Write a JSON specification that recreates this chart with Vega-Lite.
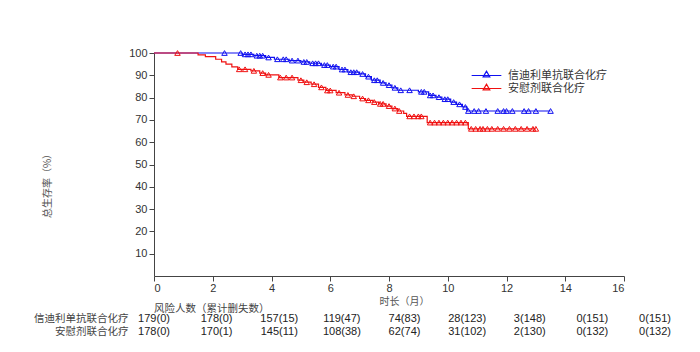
{
  "$schema": "https://vega.github.io/schema/vega-lite/v6.json",
  "background": "white",
  "padding": {"left": 33, "top": 47, "right": 5, "bottom": 5},
  "config": {
    "view": {"stroke": null},
    "axis": {"labelFont": "Liberation Sans", "labelFontSize": 11, "labelColor": "#333", "domainColor": "#444", "tickColor": "#444", "grid": false, "titleFont": "Noto Sans CJK SC", "titleFontWeight": "normal", "titleColor": "#555", "titleFontSize": 10, "labelOverlap": false}
  },
  "datasets": {
    "curves": [
      {"arm": "信迪利单抗联合化疗", "t": 0, "s": 100},
      {"arm": "信迪利单抗联合化疗", "t": 3.0, "s": 99.4},
      {"arm": "信迪利单抗联合化疗", "t": 3.4, "s": 98.8},
      {"arm": "信迪利单抗联合化疗", "t": 3.8, "s": 98.0},
      {"arm": "信迪利单抗联合化疗", "t": 4.1, "s": 97.2},
      {"arm": "信迪利单抗联合化疗", "t": 4.6, "s": 96.6},
      {"arm": "信迪利单抗联合化疗", "t": 5.0, "s": 96.0},
      {"arm": "信迪利单抗联合化疗", "t": 5.3, "s": 95.4},
      {"arm": "信迪利单抗联合化疗", "t": 5.7, "s": 94.6},
      {"arm": "信迪利单抗联合化疗", "t": 6.0, "s": 93.9},
      {"arm": "信迪利单抗联合化疗", "t": 6.3, "s": 92.6},
      {"arm": "信迪利单抗联合化疗", "t": 6.6, "s": 91.4},
      {"arm": "信迪利单抗联合化疗", "t": 7.0, "s": 90.6},
      {"arm": "信迪利单抗联合化疗", "t": 7.2, "s": 89.4},
      {"arm": "信迪利单抗联合化疗", "t": 7.4, "s": 87.8},
      {"arm": "信迪利单抗联合化疗", "t": 7.7, "s": 86.6},
      {"arm": "信迪利单抗联合化疗", "t": 7.9, "s": 85.6},
      {"arm": "信迪利单抗联合化疗", "t": 8.1, "s": 84.4},
      {"arm": "信迪利单抗联合化疗", "t": 8.3, "s": 83.3},
      {"arm": "信迪利单抗联合化疗", "t": 9.0, "s": 82.6},
      {"arm": "信迪利单抗联合化疗", "t": 9.35, "s": 81.0},
      {"arm": "信迪利单抗联合化疗", "t": 9.6, "s": 80.2},
      {"arm": "信迪利单抗联合化疗", "t": 9.8, "s": 79.3},
      {"arm": "信迪利单抗联合化疗", "t": 10.1, "s": 78.0},
      {"arm": "信迪利单抗联合化疗", "t": 10.3, "s": 77.0},
      {"arm": "信迪利单抗联合化疗", "t": 10.5, "s": 75.8},
      {"arm": "信迪利单抗联合化疗", "t": 10.65, "s": 74.0},
      {"arm": "信迪利单抗联合化疗", "t": 13.5, "s": 74.0},
      {"arm": "安慰剂联合化疗", "t": 0, "s": 100},
      {"arm": "安慰剂联合化疗", "t": 1.5, "s": 99.2},
      {"arm": "安慰剂联合化疗", "t": 1.75, "s": 98.4},
      {"arm": "安慰剂联合化疗", "t": 2.1, "s": 97.2},
      {"arm": "安慰剂联合化疗", "t": 2.3, "s": 96.0},
      {"arm": "安慰剂联合化疗", "t": 2.45, "s": 95.0},
      {"arm": "安慰剂联合化疗", "t": 2.65, "s": 93.8},
      {"arm": "安慰剂联合化疗", "t": 2.85, "s": 92.7},
      {"arm": "安慰剂联合化疗", "t": 3.3, "s": 92.0},
      {"arm": "安慰剂联合化疗", "t": 3.6, "s": 91.0},
      {"arm": "安慰剂联合化疗", "t": 3.8, "s": 90.2},
      {"arm": "安慰剂联合化疗", "t": 4.25, "s": 89.0},
      {"arm": "安慰剂联合化疗", "t": 4.9, "s": 87.8},
      {"arm": "安慰剂联合化疗", "t": 5.1, "s": 86.9},
      {"arm": "安慰剂联合化疗", "t": 5.35, "s": 86.0},
      {"arm": "安慰剂联合化疗", "t": 5.6, "s": 84.6},
      {"arm": "安慰剂联合化疗", "t": 5.85, "s": 83.2},
      {"arm": "安慰剂联合化疗", "t": 6.2, "s": 82.2},
      {"arm": "安慰剂联合化疗", "t": 6.5, "s": 81.2},
      {"arm": "安慰剂联合化疗", "t": 6.75, "s": 80.6},
      {"arm": "安慰剂联合化疗", "t": 7.0, "s": 79.6},
      {"arm": "安慰剂联合化疗", "t": 7.2, "s": 78.8},
      {"arm": "安慰剂联合化疗", "t": 7.45, "s": 78.0},
      {"arm": "安慰剂联合化疗", "t": 7.65, "s": 77.2},
      {"arm": "安慰剂联合化疗", "t": 7.9, "s": 76.2},
      {"arm": "安慰剂联合化疗", "t": 8.1, "s": 75.1},
      {"arm": "安慰剂联合化疗", "t": 8.3, "s": 74.0},
      {"arm": "安慰剂联合化疗", "t": 8.5, "s": 72.9},
      {"arm": "安慰剂联合化疗", "t": 8.6, "s": 71.6},
      {"arm": "安慰剂联合化疗", "t": 9.3, "s": 68.8},
      {"arm": "安慰剂联合化疗", "t": 10.7, "s": 66.0},
      {"arm": "安慰剂联合化疗", "t": 13.0, "s": 66.0}
    ],
    "censor": [
      {"arm": "信迪利单抗联合化疗", "t": 2.4, "s": 100},
      {"arm": "信迪利单抗联合化疗", "t": 2.95, "s": 100},
      {"arm": "信迪利单抗联合化疗", "t": 3.1, "s": 99.4},
      {"arm": "信迪利单抗联合化疗", "t": 3.2, "s": 99.4},
      {"arm": "信迪利单抗联合化疗", "t": 3.3, "s": 99.4},
      {"arm": "信迪利单抗联合化疗", "t": 3.5, "s": 98.8},
      {"arm": "信迪利单抗联合化疗", "t": 3.6, "s": 98.8},
      {"arm": "信迪利单抗联合化疗", "t": 3.7, "s": 98.8},
      {"arm": "信迪利单抗联合化疗", "t": 3.9, "s": 98.0},
      {"arm": "信迪利单抗联合化疗", "t": 4.2, "s": 97.2},
      {"arm": "信迪利单抗联合化疗", "t": 4.4, "s": 97.2},
      {"arm": "信迪利单抗联合化疗", "t": 4.5, "s": 97.2},
      {"arm": "信迪利单抗联合化疗", "t": 4.7, "s": 96.6},
      {"arm": "信迪利单抗联合化疗", "t": 4.9, "s": 96.6},
      {"arm": "信迪利单抗联合化疗", "t": 5.1, "s": 96.0},
      {"arm": "信迪利单抗联合化疗", "t": 5.2, "s": 96.0},
      {"arm": "信迪利单抗联合化疗", "t": 5.4, "s": 95.4},
      {"arm": "信迪利单抗联合化疗", "t": 5.5, "s": 95.4},
      {"arm": "信迪利单抗联合化疗", "t": 5.6, "s": 95.4},
      {"arm": "信迪利单抗联合化疗", "t": 5.8, "s": 94.6},
      {"arm": "信迪利单抗联合化疗", "t": 5.9, "s": 94.6},
      {"arm": "信迪利单抗联合化疗", "t": 6.1, "s": 93.9},
      {"arm": "信迪利单抗联合化疗", "t": 6.2, "s": 93.9},
      {"arm": "信迪利单抗联合化疗", "t": 6.4, "s": 92.6},
      {"arm": "信迪利单抗联合化疗", "t": 6.5, "s": 92.6},
      {"arm": "信迪利单抗联合化疗", "t": 6.7, "s": 91.4},
      {"arm": "信迪利单抗联合化疗", "t": 6.8, "s": 91.4},
      {"arm": "信迪利单抗联合化疗", "t": 6.9, "s": 91.4},
      {"arm": "信迪利单抗联合化疗", "t": 7.1, "s": 90.6},
      {"arm": "信迪利单抗联合化疗", "t": 7.3, "s": 89.4},
      {"arm": "信迪利单抗联合化疗", "t": 7.5, "s": 87.8},
      {"arm": "信迪利单抗联合化疗", "t": 7.6, "s": 87.8},
      {"arm": "信迪利单抗联合化疗", "t": 7.8, "s": 86.6},
      {"arm": "信迪利单抗联合化疗", "t": 8.0, "s": 85.6},
      {"arm": "信迪利单抗联合化疗", "t": 8.2, "s": 84.4},
      {"arm": "信迪利单抗联合化疗", "t": 8.4, "s": 83.3},
      {"arm": "信迪利单抗联合化疗", "t": 8.7, "s": 83.3},
      {"arm": "信迪利单抗联合化疗", "t": 9.1, "s": 82.6},
      {"arm": "信迪利单抗联合化疗", "t": 9.2, "s": 82.6},
      {"arm": "信迪利单抗联合化疗", "t": 9.4, "s": 81.0},
      {"arm": "信迪利单抗联合化疗", "t": 9.5, "s": 81.0},
      {"arm": "信迪利单抗联合化疗", "t": 9.7, "s": 80.2},
      {"arm": "信迪利单抗联合化疗", "t": 9.9, "s": 79.3},
      {"arm": "信迪利单抗联合化疗", "t": 10.0, "s": 79.3},
      {"arm": "信迪利单抗联合化疗", "t": 10.2, "s": 78.0},
      {"arm": "信迪利单抗联合化疗", "t": 10.4, "s": 77.0},
      {"arm": "信迪利单抗联合化疗", "t": 10.6, "s": 75.8},
      {"arm": "信迪利单抗联合化疗", "t": 10.7, "s": 74.0},
      {"arm": "信迪利单抗联合化疗", "t": 10.9, "s": 74.0},
      {"arm": "信迪利单抗联合化疗", "t": 11.05, "s": 74.0},
      {"arm": "信迪利单抗联合化疗", "t": 11.3, "s": 74.0},
      {"arm": "信迪利单抗联合化疗", "t": 11.7, "s": 74.0},
      {"arm": "信迪利单抗联合化疗", "t": 11.9, "s": 74.0},
      {"arm": "信迪利单抗联合化疗", "t": 12.0, "s": 74.0},
      {"arm": "信迪利单抗联合化疗", "t": 12.2, "s": 74.0},
      {"arm": "信迪利单抗联合化疗", "t": 12.6, "s": 74.0},
      {"arm": "信迪利单抗联合化疗", "t": 12.75, "s": 74.0},
      {"arm": "信迪利单抗联合化疗", "t": 13.0, "s": 74.0},
      {"arm": "信迪利单抗联合化疗", "t": 13.5, "s": 74.0},
      {"arm": "安慰剂联合化疗", "t": 0.8, "s": 100},
      {"arm": "安慰剂联合化疗", "t": 2.9, "s": 92.7},
      {"arm": "安慰剂联合化疗", "t": 3.1, "s": 92.7},
      {"arm": "安慰剂联合化疗", "t": 3.4, "s": 92.0},
      {"arm": "安慰剂联合化疗", "t": 3.7, "s": 91.0},
      {"arm": "安慰剂联合化疗", "t": 3.9, "s": 90.2},
      {"arm": "安慰剂联合化疗", "t": 4.3, "s": 89.0},
      {"arm": "安慰剂联合化疗", "t": 4.5, "s": 89.0},
      {"arm": "安慰剂联合化疗", "t": 4.7, "s": 89.0},
      {"arm": "安慰剂联合化疗", "t": 5.0, "s": 87.8},
      {"arm": "安慰剂联合化疗", "t": 5.2, "s": 86.9},
      {"arm": "安慰剂联合化疗", "t": 5.45, "s": 86.0},
      {"arm": "安慰剂联合化疗", "t": 5.7, "s": 84.6},
      {"arm": "安慰剂联合化疗", "t": 5.9, "s": 83.2},
      {"arm": "安慰剂联合化疗", "t": 6.0, "s": 83.2},
      {"arm": "安慰剂联合化疗", "t": 6.3, "s": 82.2},
      {"arm": "安慰剂联合化疗", "t": 6.6, "s": 81.2},
      {"arm": "安慰剂联合化疗", "t": 6.8, "s": 80.6},
      {"arm": "安慰剂联合化疗", "t": 7.1, "s": 79.6},
      {"arm": "安慰剂联合化疗", "t": 7.3, "s": 78.8},
      {"arm": "安慰剂联合化疗", "t": 7.5, "s": 78.0},
      {"arm": "安慰剂联合化疗", "t": 7.7, "s": 77.2},
      {"arm": "安慰剂联合化疗", "t": 7.8, "s": 77.2},
      {"arm": "安慰剂联合化疗", "t": 8.0, "s": 76.2},
      {"arm": "安慰剂联合化疗", "t": 8.2, "s": 75.1},
      {"arm": "安慰剂联合化疗", "t": 8.35, "s": 74.0},
      {"arm": "安慰剂联合化疗", "t": 8.7, "s": 71.6},
      {"arm": "安慰剂联合化疗", "t": 8.85, "s": 71.6},
      {"arm": "安慰剂联合化疗", "t": 9.0, "s": 71.6},
      {"arm": "安慰剂联合化疗", "t": 9.1, "s": 71.6},
      {"arm": "安慰剂联合化疗", "t": 9.4, "s": 68.8},
      {"arm": "安慰剂联合化疗", "t": 9.55, "s": 68.8},
      {"arm": "安慰剂联合化疗", "t": 9.7, "s": 68.8},
      {"arm": "安慰剂联合化疗", "t": 9.85, "s": 68.8},
      {"arm": "安慰剂联合化疗", "t": 10.0, "s": 68.8},
      {"arm": "安慰剂联合化疗", "t": 10.15, "s": 68.8},
      {"arm": "安慰剂联合化疗", "t": 10.3, "s": 68.8},
      {"arm": "安慰剂联合化疗", "t": 10.45, "s": 68.8},
      {"arm": "安慰剂联合化疗", "t": 10.6, "s": 68.8},
      {"arm": "安慰剂联合化疗", "t": 10.8, "s": 66.0},
      {"arm": "安慰剂联合化疗", "t": 10.95, "s": 66.0},
      {"arm": "安慰剂联合化疗", "t": 11.1, "s": 66.0},
      {"arm": "安慰剂联合化疗", "t": 11.2, "s": 66.0},
      {"arm": "安慰剂联合化疗", "t": 11.35, "s": 66.0},
      {"arm": "安慰剂联合化疗", "t": 11.5, "s": 66.0},
      {"arm": "安慰剂联合化疗", "t": 11.7, "s": 66.0},
      {"arm": "安慰剂联合化疗", "t": 11.9, "s": 66.0},
      {"arm": "安慰剂联合化疗", "t": 12.1, "s": 66.0},
      {"arm": "安慰剂联合化疗", "t": 12.3, "s": 66.0},
      {"arm": "安慰剂联合化疗", "t": 12.5, "s": 66.0},
      {"arm": "安慰剂联合化疗", "t": 12.7, "s": 66.0},
      {"arm": "安慰剂联合化疗", "t": 12.9, "s": 66.0},
      {"arm": "安慰剂联合化疗", "t": 13.0, "s": 66.0}
    ],
    "risk": [
      {"arm": "信迪利单抗联合化疗", "t": 0, "label": "179(0)"},
      {"arm": "信迪利单抗联合化疗", "t": 2, "label": "178(0)"},
      {"arm": "信迪利单抗联合化疗", "t": 4, "label": "157(15)"},
      {"arm": "信迪利单抗联合化疗", "t": 6, "label": "119(47)"},
      {"arm": "信迪利单抗联合化疗", "t": 8, "label": "74(83)"},
      {"arm": "信迪利单抗联合化疗", "t": 10, "label": "28(123)"},
      {"arm": "信迪利单抗联合化疗", "t": 12, "label": "3(148)"},
      {"arm": "信迪利单抗联合化疗", "t": 14, "label": "0(151)"},
      {"arm": "信迪利单抗联合化疗", "t": 16, "label": "0(151)"},
      {"arm": "安慰剂联合化疗", "t": 0, "label": "178(0)"},
      {"arm": "安慰剂联合化疗", "t": 2, "label": "170(1)"},
      {"arm": "安慰剂联合化疗", "t": 4, "label": "145(11)"},
      {"arm": "安慰剂联合化疗", "t": 6, "label": "108(38)"},
      {"arm": "安慰剂联合化疗", "t": 8, "label": "62(74)"},
      {"arm": "安慰剂联合化疗", "t": 10, "label": "31(102)"},
      {"arm": "安慰剂联合化疗", "t": 12, "label": "2(130)"},
      {"arm": "安慰剂联合化疗", "t": 14, "label": "0(132)"},
      {"arm": "安慰剂联合化疗", "t": 16, "label": "0(132)"}
    ]
  },
  "bounds": "flush",
  "spacing": 36,
  "resolve": {"scale": {"x": "independent", "y": "independent"}},
  "vconcat": [
    {
      "width": 470,
      "height": 223,
      "encoding": {
        "x": {"field": "t", "type": "quantitative", "scale": {"domain": [0, 16], "nice": false, "zero": false},
          "axis": {"values": [0, 2, 4, 6, 8, 10, 12, 14, 16], "labelOverlap": false, "title": "时长（月）", "tickSize": 5, "labelPadding": 1, "titleX": 250, "titleY": 25, "titleBaseline": "middle", "titleAnchor": "middle", "titleAlign": "center"}},
        "y": {"field": "s", "type": "quantitative", "scale": {"domain": [0, 100], "nice": false},
          "axis": {"values": [10, 20, 30, 40, 50, 60, 70, 80, 90, 100], "labelOverlap": false, "labelFlush": false, "title": "总生存率（%）", "tickSize": 5, "labelPadding": 2, "titleX": -107, "titleY": 130, "titleAngle": -90, "titleAlign": "center", "titleBaseline": "middle"}},
        "color": {"field": "arm", "type": "nominal",
          "scale": {"domain": ["信迪利单抗联合化疗", "安慰剂联合化疗"], "range": ["#1010f0", "#f01010"]},
          "legend": {"title": null, "orient": "none", "legendX": 326, "legendY": 16, "symbolType": "M-2.7,0H2.7M-0.6,0.25L0,-0.8L0.6,0.25Z", "symbolSize": 121, "symbolStrokeWidth": 1.2, "symbolFillColor": "transparent", "labelFont": "Noto Sans CJK SC", "labelFontSize": 11, "labelColor": "#333", "labelOffset": 15, "rowPadding": 0}}
      },
      "layer": [
        {
          "data": {"name": "curves"},
          "mark": {"type": "line", "interpolate": "step-after", "strokeWidth": 1.2, "clip": false}
        },
        {
          "data": {"name": "censor"},
          "mark": {"type": "point", "shape": "triangle-up", "filled": false, "size": 30, "strokeWidth": 1, "opacity": 1, "clip": false}
        }
      ]
    },
    {
      "width": 501,
      "height": 26,
      "title": {"text": "风险人数（累计删失数）", "anchor": "start", "frame": "group", "offset": -2, "fontSize": 10.5, "font": "Noto Sans CJK SC", "fontWeight": "normal", "color": "#444"},
      "data": {"name": "risk"},
      "mark": {"type": "text", "font": "Liberation Sans", "fontSize": 11, "color": "#222"},
      "encoding": {
        "x": {"field": "t", "type": "quantitative", "scale": {"domain": [0, 16], "nice": false}, "axis": null},
        "y": {"field": "arm", "type": "nominal", "sort": ["信迪利单抗联合化疗", "安慰剂联合化疗"],
          "axis": {"title": null, "domain": false, "ticks": false, "labelPadding": 26, "labelFont": "Noto Sans CJK SC", "labelFontSize": 10.5, "labelColor": "#444"}},
        "text": {"field": "label"}
      }
    }
  ]
}
